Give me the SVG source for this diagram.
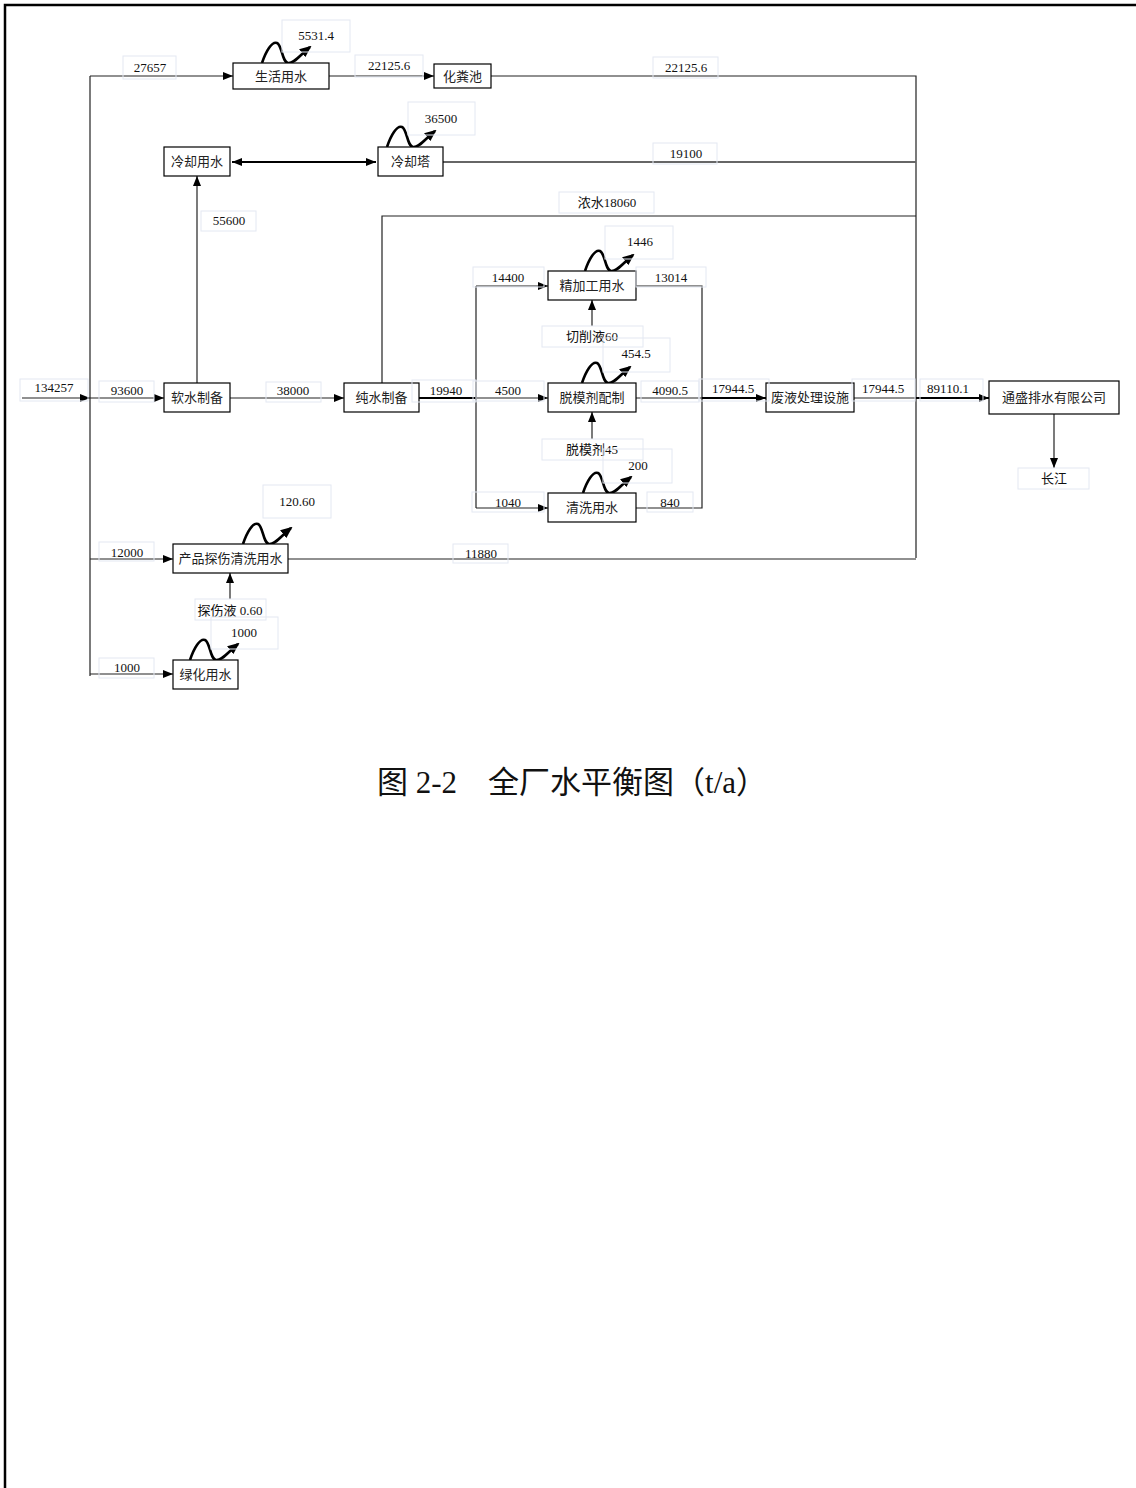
<svg xmlns="http://www.w3.org/2000/svg" width="1136" height="1488" viewBox="0 0 1136 1488">
<style>
.node rect{fill:#fff;stroke:#000;stroke-width:1.2}
.node text{font-family:"Liberation Serif","Noto Sans CJK SC",serif;font-size:13px;fill:#222;text-anchor:middle}
.lbl rect{fill:none;stroke:#e3e8f2;stroke-width:1}
.lbl text{font-family:"Liberation Serif","Noto Sans CJK SC",serif;font-size:13px;fill:#111;text-anchor:middle}
.c{fill:none;stroke:#222;stroke-width:1.2}
.a{marker-end:url(#ah)}
.thick{stroke-width:2.2;stroke:#000}
.gray{stroke:#666;stroke-width:2}
.wave{fill:none;stroke:#000;stroke-width:2.6;marker-end:url(#wh)}
.title{font-family:"Liberation Serif","Noto Sans CJK SC",serif;font-size:31px;fill:#111}
</style>
<defs>
<marker id="ah" markerUnits="userSpaceOnUse" markerWidth="10" markerHeight="8" refX="10" refY="4" orient="auto-start-reverse">
<path d="M0,0 L10,4 L0,8 z" fill="#000"/>
</marker>
<marker id="wh" markerUnits="userSpaceOnUse" markerWidth="12" markerHeight="10" refX="10" refY="5" orient="auto">
<path d="M0,0 L12,5 L0,10 z" fill="#000"/>
</marker>
<path id="wv" d="M0,0 C4,-12 10,-22 15,-20 C20,-18 20,-1 26,0 C32,1 38,-8 48,-16"/>
</defs>
<rect width="1136" height="1488" fill="#fff"/>
<path d="M5,1488 V5 H1136" fill="none" stroke="#000" stroke-width="2.5"/>

<g id="connectors">
<path class="c a" d="M22,398 H90"/>
<path class="c" d="M90,76 V676"/>
<path class="c a" d="M90,76 H233"/>
<path class="c a" d="M329,76 H434"/>
<path class="c" d="M491,76 H916 V558"/>
<path class="c thick" d="M232,162 H376" marker-start="url(#ah)" marker-end="url(#ah)"/>
<path class="c gray" d="M443,162 H916"/>
<path class="c" d="M382,383 V216 H916"/>
<path class="c a" d="M90,398 H164"/>
<path class="c a" d="M197,383 V176"/>
<path class="c a" d="M230,398 H344"/>
<path class="c thick" d="M419,398 H476"/>
<path class="c a" d="M476,398 H548"/>
<path class="c" d="M476,286 V508"/>
<path class="c a" d="M476,286 H548"/>
<path class="c a" d="M476,508 H548"/>
<path class="c" d="M636,286 H702 V508 H636"/>
<path class="c" d="M636,398 H702"/>
<path class="c thick a" d="M702,398 H766"/>
<path class="c" d="M854,398 H916"/>
<path class="c thick a" d="M916,398 H989"/>
<path class="c a" d="M1054,414 V468"/>
<path class="c a" d="M592,326 V300"/>
<path class="c a" d="M592,439 V412"/>
<path class="c a" d="M90,559 H173"/>
<path class="c" d="M288,559 H916"/>
<path class="c a" d="M230,599 V573"/>
<path class="c a" d="M90,674 H173"/>
<use href="#wv" class="wave" transform="translate(262,63)"/>
<use href="#wv" class="wave" transform="translate(387,147)"/>
<use href="#wv" class="wave" transform="translate(585,271)"/>
<use href="#wv" class="wave" transform="translate(582,383)"/>
<use href="#wv" class="wave" transform="translate(583,493)"/>
<use href="#wv" class="wave" transform="translate(243,544)"/>
<use href="#wv" class="wave" transform="translate(190,660)"/>
</g>

<g id="n-shenghuo" class="node"><rect x="233" y="63" width="96" height="26"/><text x="281" y="81">生活用水</text></g>
<g id="n-huafenchi" class="node"><rect x="434" y="64" width="57" height="24"/><text x="462.5" y="81">化粪池</text></g>
<g id="n-lengque" class="node"><rect x="164" y="147" width="66" height="29"/><text x="197" y="166">冷却用水</text></g>
<g id="n-lengqueta" class="node"><rect x="378" y="147" width="65" height="29"/><text x="410.5" y="166">冷却塔</text></g>
<g id="n-ruanshui" class="node"><rect x="164" y="383" width="66" height="29"/><text x="197" y="402">软水制备</text></g>
<g id="n-chunshui" class="node"><rect x="344" y="383" width="75" height="29"/><text x="381.5" y="402">纯水制备</text></g>
<g id="n-jingjiagong" class="node"><rect x="548" y="271" width="88" height="29"/><text x="592" y="290">精加工用水</text></g>
<g id="n-tuomoji" class="node"><rect x="548" y="383" width="88" height="29"/><text x="592" y="402">脱模剂配制</text></g>
<g id="n-qingxi" class="node"><rect x="548" y="493" width="88" height="29"/><text x="592" y="512">清洗用水</text></g>
<g id="n-feiye" class="node"><rect x="766" y="383" width="88" height="29"/><text x="810" y="402">废液处理设施</text></g>
<g id="n-tongsheng" class="node"><rect x="989" y="381" width="130" height="33"/><text x="1054" y="402">通盛排水有限公司</text></g>
<g id="n-tanshang" class="node"><rect x="173" y="544" width="115" height="29"/><text x="230.5" y="563">产品探伤清洗用水</text></g>
<g id="n-lvhua" class="node"><rect x="173" y="660" width="65" height="29"/><text x="205.5" y="679">绿化用水</text></g>

<g id="labels">
<g class="lbl"><rect x="20" y="379" width="68" height="22"/><text x="54" y="392">134257</text></g>
<g class="lbl"><rect x="99" y="381" width="55" height="21"/><text x="127" y="395">93600</text></g>
<g class="lbl"><rect x="266" y="382" width="55" height="20"/><text x="293" y="395">38000</text></g>
<g class="lbl"><rect x="412" y="380" width="64" height="22"/><text x="446" y="395">19940</text></g>
<g class="lbl"><rect x="201" y="211" width="55" height="20"/><text x="229" y="225">55600</text></g>
<g class="lbl"><rect x="123" y="56" width="53" height="23"/><text x="150" y="72">27657</text></g>
<g class="lbl"><rect x="355" y="55" width="68" height="22"/><text x="389" y="70">22125.6</text></g>
<g class="lbl"><rect x="653" y="57" width="65" height="21"/><text x="686" y="72">22125.6</text></g>
<g class="lbl"><rect x="653" y="143" width="64" height="21"/><text x="686" y="158">19100</text></g>
<g class="lbl"><rect x="559" y="192" width="95" height="21"/><text x="607" y="207">浓水18060</text></g>
<g class="lbl"><rect x="473" y="267" width="71" height="20"/><text x="508" y="282">14400</text></g>
<g class="lbl"><rect x="636" y="267" width="70" height="20"/><text x="671" y="282">13014</text></g>
<g class="lbl"><rect x="542" y="326" width="101" height="21"/><text x="592" y="341">切削液60</text></g>
<g class="lbl"><rect x="473" y="381" width="71" height="20"/><text x="508" y="395">4500</text></g>
<g class="lbl"><rect x="641" y="381" width="58" height="21"/><text x="670" y="395">4090.5</text></g>
<g class="lbl"><rect x="542" y="439" width="101" height="21"/><text x="592" y="454">脱模剂45</text></g>
<g class="lbl"><rect x="472" y="492" width="72" height="20"/><text x="508" y="507">1040</text></g>
<g class="lbl"><rect x="647" y="492" width="46" height="20"/><text x="670" y="507">840</text></g>
<g class="lbl"><rect x="699" y="379" width="70" height="22"/><text x="733" y="393">17944.5</text></g>
<g class="lbl"><rect x="852" y="379" width="63" height="22"/><text x="883" y="393">17944.5</text></g>
<g class="lbl"><rect x="920" y="379" width="63" height="22"/><text x="948" y="393">89110.1</text></g>
<g class="lbl"><rect x="1018" y="468" width="71" height="21"/><text x="1054" y="483">长江</text></g>
<g class="lbl"><rect x="99" y="542" width="55" height="19"/><text x="127" y="557">12000</text></g>
<g class="lbl"><rect x="453" y="544" width="55" height="19"/><text x="481" y="558">11880</text></g>
<g class="lbl"><rect x="195" y="599" width="71" height="21"/><text x="230" y="615">探伤液 0.60</text></g>
<g class="lbl"><rect x="99" y="658" width="55" height="20"/><text x="127" y="672">1000</text></g>
<g class="lbl"><rect x="282" y="20" width="68" height="32"/><text x="316" y="40">5531.4</text></g>
<g class="lbl"><rect x="408" y="102" width="67" height="33"/><text x="441" y="123">36500</text></g>
<g class="lbl"><rect x="605" y="226" width="68" height="33"/><text x="640" y="246">1446</text></g>
<g class="lbl"><rect x="603" y="338" width="67" height="34"/><text x="636" y="358">454.5</text></g>
<g class="lbl"><rect x="603" y="449" width="69" height="34"/><text x="638" y="470">200</text></g>
<g class="lbl"><rect x="263" y="485" width="68" height="33"/><text x="297" y="506">120.60</text></g>
<g class="lbl"><rect x="211" y="617" width="67" height="32"/><text x="244" y="637">1000</text></g>
</g>

<text class="title" x="377" y="793">图 2-2　全厂水平衡图（t/a）</text>
</svg>
